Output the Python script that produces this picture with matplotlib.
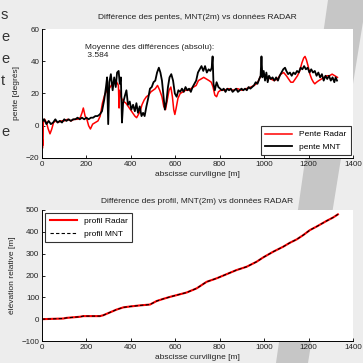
import matplotlib
matplotlib.use("Agg")
import matplotlib.pyplot as plt
from matplotlib.patches import Polygon

plt.rcParams['font.family'] = ['Liberation Sans', 'DejaVu Sans']

# pente radar (x en m, pente en degres)
x_radar = [0, 1, 2, 3, 4, 6, 12, 20, 28, 36, 44, 52, 62, 72, 85, 100, 115, 130, 145, 160,
           172, 180, 186, 194, 202, 210, 218, 228, 240, 252, 262, 272, 282, 292, 302, 312,
           322, 332, 340, 344, 347, 350, 358, 368, 378, 388, 398, 408, 418, 426, 434, 442,
           450, 460, 470, 480, 490, 500, 510, 520, 530, 540, 548, 556, 564, 572, 580, 587,
           593, 598, 604, 612, 622, 634, 646, 658, 670, 682, 694, 704, 716, 728, 740, 752,
           762, 770, 778, 786, 794, 804, 820, 840, 860, 880, 900, 920, 940, 955, 965, 975,
           985, 995, 1005, 1015, 1030, 1045, 1060, 1075, 1088, 1100, 1110, 1120, 1130, 1140,
           1150, 1160, 1170, 1178, 1184, 1190, 1198, 1206, 1214, 1222, 1228, 1236, 1246,
           1258, 1270, 1282, 1294, 1306, 1318, 1330]
pente_radar = [16, 4, -14, -9, -12, 2, 4, 2, -2, -5, -2, 2, 3, 2, 3, 3, 4, 3, 4, 4,
               5, 8, 11, 6, 4, 0, -2, 1, 2, 3, 6, 14, 19, 22, 23, 25,
               27, 28, 26, 25, 11, 22, 17, 15, 14, 12, 10, 8, 6, 5, 7, 9,
               13, 16, 18, 19, 21, 22, 23, 25, 22, 18, 12, 10, 16, 22, 24, 18,
               10, 7, 11, 17, 20, 21, 22, 22, 23, 24, 25, 28, 29, 30, 29, 28,
               27, 24, 19, 18, 21, 22, 22, 23, 22, 23, 22, 23, 24, 25, 26, 28,
               31, 32, 31, 30, 29, 28, 29, 32, 33, 31, 29, 27, 27, 29,
               31, 34, 39, 42, 43, 41, 37, 32, 29, 27, 26, 27, 28,
               29, 30, 31, 31, 32, 31, 30]

# pente MNT
x_mnt = [0, 5, 10, 20, 30, 40, 50, 60, 70, 80, 90, 100, 110, 120, 130, 140, 150, 160, 170,
         180, 190, 200, 210, 220, 230, 240, 250, 260, 270, 280, 288, 293, 298, 303, 310, 318,
         325, 332, 338, 345, 350, 355, 360, 365, 372, 380, 387, 395, 402, 410, 418, 425,
         432, 440, 448, 455, 462, 470, 478, 486, 494, 502, 510, 518, 526, 533, 540, 547,
         553, 560, 567, 574, 582, 590, 598, 606, 614, 622, 630, 638, 646, 654, 662, 670,
         678, 686, 694, 702, 710, 718, 726, 734, 742, 750, 758, 764, 768, 772, 778, 786,
         794, 802, 810, 818, 826, 834, 842, 850, 858, 866, 874, 882, 890, 898, 906, 914,
         922, 930, 938, 946, 954, 962, 970, 978, 984, 988, 992, 998, 1004, 1010, 1016,
         1022, 1030, 1038, 1046, 1054, 1062, 1070, 1078, 1086, 1094, 1100, 1108, 1116,
         1124, 1132, 1140, 1148, 1156, 1164, 1172, 1180, 1188, 1196, 1204, 1212, 1220,
         1228, 1236, 1244, 1252, 1260, 1268, 1276, 1284, 1292, 1300, 1308, 1316, 1322, 1328]
pente_mnt = [5, 3, 4, 1, 3, 1, 2, 4, 2, 3, 2, 4, 3, 4, 3, 4, 4, 5, 4,
             5, 4, 5, 4, 5, 5, 6, 6, 7, 9, 16, 24, 30, 1, 27, 32, 22,
             30, 24, 33, 34, 26, 30, 2, 14, 18, 22, 13, 15, 10, 13, 9, 14,
             8, 12, 6, 8, 6, 12, 17, 23, 24, 27, 28, 33, 36, 33, 28, 18,
             10, 15, 24, 30, 32, 28, 20, 18, 22, 21, 23, 21, 24, 22, 23, 21,
             24, 26, 28, 33, 35, 37, 34, 37, 33, 35, 34, 36, 43, 26, 22, 27,
             24, 23, 22, 23, 21, 23, 22, 23, 21, 22, 23, 21, 22, 23, 22, 23,
             22, 24, 23, 24, 25, 27, 26, 29, 31, 43, 30, 34, 28, 33, 27,
             31, 29, 30, 28, 30, 28, 31, 33, 35, 36, 34, 32, 33,
             31, 33, 32, 34, 33, 36, 35, 37, 35, 36, 33, 35, 33,
             34, 31, 33, 30, 32, 28, 31, 29, 31, 28, 30, 27, 30, 28]

# profils (elevation relative en m)
x_profil = [0, 96, 111, 171, 186, 261, 276, 306, 336, 366, 396, 441, 486, 516, 546, 576,
            606, 651, 696, 741, 786, 831, 876, 921, 966, 996, 1041, 1086, 1116, 1146, 1176,
            1206, 1236, 1281, 1311, 1332]
profil_radar = [0, 3, 6, 11, 14, 14, 18, 31, 44, 54, 58, 63, 67, 83, 93, 102,
                110, 122, 141, 171, 187, 206, 225, 240, 263, 283, 309, 332, 350, 365, 385,
                408, 424, 450, 466, 480]
profil_mnt = [0, 3, 6, 11, 14, 14, 18, 31, 44, 54, 58, 63, 67, 83, 93, 102,
              110, 122, 141, 171, 187, 206, 225, 240, 263, 283, 309, 332, 350, 365, 385,
              408, 424, 450, 466, 480]

moyenne_diff = 3.584

fig = plt.figure(figsize=(3.63, 3.63), dpi=100, facecolor='#ededed')
# bande grise du fond (photo)
fig.patches.append(Polygon([(328/363, 1), (1, 1), (1, 0.94), (308/363, 0), (276/363, 0)],
                           closed=True, transform=fig.transFigure, facecolor='#c6c6c6',
                           edgecolor='none', zorder=-1))

# bouts de texte coupes a gauche
for i, c in enumerate(['s', 'e', 'e', 't']):
    fig.text(1/363, 1 - (15 + 22*i)/363, c, ha='left', va='center', fontsize=10.5, color='#333333')
fig.text(1/363, 1 - 132/363, 'e', ha='left', va='center', fontsize=10.5, color='#333333')


def style(ax):
    ax.spines['top'].set_visible(False)
    ax.spines['right'].set_visible(False)
    ax.spines['left'].set_linewidth(0.7)
    ax.spines['bottom'].set_linewidth(0.7)
    ax.tick_params(direction='in', length=2.5, width=0.7, labelsize=5.8, colors='#222222', pad=2)
    ax.set_xlim(0, 1400)
    ax.set_xticks(range(0, 1401, 200))


ax1 = fig.add_axes([42/363, 1 - 158/363, 311/363, 129/363])
ax1.plot(x_radar, pente_radar, color='red', lw=1.1, label='Pente Radar')
ax1.plot(x_mnt, pente_mnt, color='black', lw=1.3, label='pente MNT')
style(ax1)
ax1.set_ylim(-20, 60)
ax1.set_yticks(range(-20, 61, 20))
ax1.set_title('Différence des pentes, MNT(2m) vs données RADAR', fontsize=6, pad=7, color='#222222')
ax1.set_xlabel('abscisse curviligne [m]', fontsize=6, labelpad=2, color='#222222')
ax1.set_ylabel('pente [degrés]', fontsize=6, labelpad=4, color='#222222')
ax1.text(195, 51, 'Moyenne des différences (absolu):\n %.3f' % moyenne_diff, fontsize=6,
         va='top', ha='left', color='#222222', linespacing=1.3)
leg1 = ax1.legend(loc='lower right', fontsize=6, handlelength=3.3, frameon=True, fancybox=False,
                  borderaxespad=0.3, labelspacing=0.6, borderpad=0.5)
leg1.get_frame().set_edgecolor('black')
leg1.get_frame().set_linewidth(0.8)

ax2 = fig.add_axes([42/363, 1 - 341/363, 311/363, 131/363])
ax2.plot(x_profil, profil_radar, color='red', lw=1.5, label='profil Radar')
ax2.plot(x_profil, profil_mnt, color='black', lw=0.8, ls=(0, (3, 2)), label='profil MNT')
style(ax2)
ax2.set_ylim(-100, 500)
ax2.set_yticks(range(-100, 501, 100))
ax2.set_title('Différence des profil, MNT(2m) vs données RADAR', fontsize=6, pad=5, color='#222222')
ax2.set_xlabel('abscisse curviligne [m]', fontsize=6, labelpad=2, color='#222222')
ax2.set_ylabel('élévation relative [m]', fontsize=6, labelpad=4, color='#222222')
leg2 = ax2.legend(loc='upper left', fontsize=6, handlelength=3.3, frameon=True, fancybox=False,
                  borderaxespad=0.4, labelspacing=0.6, borderpad=0.5)
leg2.get_frame().set_edgecolor('black')
leg2.get_frame().set_linewidth(0.8)

fig.savefig('out.png', dpi=100, facecolor=fig.get_facecolor())
